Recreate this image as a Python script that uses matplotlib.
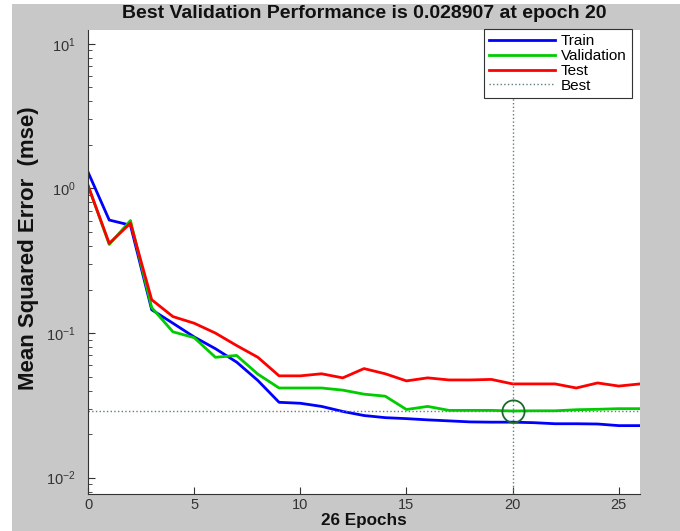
import matplotlib
matplotlib.use('Agg')
import matplotlib.pyplot as plt
from matplotlib.patches import Rectangle
from matplotlib.ticker import LogLocator, FixedLocator

epochs = list(range(27))
train = [1.30, 0.605, 0.557, 0.145, 0.117, 0.094, 0.078, 0.063, 0.047, 0.0332,
         0.0327, 0.0311, 0.0287, 0.0269, 0.0260, 0.0256, 0.0251, 0.0247, 0.0243,
         0.0242, 0.0242, 0.0240, 0.0236, 0.0236, 0.0235, 0.0229, 0.0229]
validation = [1.05, 0.41, 0.60, 0.15, 0.102, 0.093, 0.068, 0.070, 0.052, 0.0417,
              0.0417, 0.0417, 0.0403, 0.0378, 0.0366, 0.0296, 0.0311, 0.0292,
              0.0292, 0.0292, 0.028907, 0.0290, 0.0290, 0.0295, 0.0297, 0.0300, 0.0300]
test = [1.05, 0.417, 0.575, 0.17, 0.13, 0.117, 0.100, 0.082, 0.068, 0.0506,
        0.0506, 0.0523, 0.049, 0.0568, 0.0523, 0.0467, 0.049, 0.0474, 0.0474,
        0.0478, 0.0445, 0.0445, 0.0445, 0.0417, 0.0452, 0.0430, 0.0445]
best_epoch = 20
best_value = 0.028907
xticks = [0, 5, 10, 15, 20, 25]
yticks = [1e-2, 1e-1, 1e0, 1e1]
ytick_labels = [r'$10^{-2}$', r'$10^{-1}$', r'$10^{0}$', r'$10^{1}$']

plt.rcParams['font.family'] = ['Liberation Sans', 'DejaVu Sans']
plt.rcParams['mathtext.fontset'] = 'custom'
plt.rcParams['mathtext.rm'] = 'Liberation Sans'
plt.rcParams['mathtext.it'] = 'Liberation Sans'

W, H = 680, 531
fig = plt.figure(figsize=(W / 100, H / 100), dpi=100)
fig.patch.set_facecolor('white')
fig.patches.append(Rectangle((12 / W, 0), 1 - 12 / W, 1 - 4 / H, transform=fig.transFigure,
                             facecolor='#c8c8c8', edgecolor='none', zorder=-10))

left, right, top, bottom = 88, 640, 30, 494
ax = fig.add_axes([left / W, 1 - bottom / H, (right - left) / W, (bottom - top) / H])
ax.set_facecolor('white')

ax.plot(epochs, train, color=(0, 0, 1), lw=2.0, label='Train')
ax.plot(epochs, validation, color=(0, 0.8, 0), lw=2.0, label='Validation')
ax.plot(epochs, test, color=(1, 0, 0), lw=2.0, label='Test')
ax.axhline(best_value, color='#5f7f7f', ls=':', lw=1.0, label='Best')
ax.axvline(best_epoch, color='#5f7f7f', ls=':', lw=1.0)
ax.plot([best_epoch], [best_value], 'o', mfc='none', mec='#1a6a2a', ms=16, mew=1.3)

ax.set_yscale('log')
ax.set_xlim(0, 26)
ax.set_ylim(10 ** -2.113, 10 ** 1.096)
ax.xaxis.set_major_locator(FixedLocator(xticks))
ax.yaxis.set_major_locator(FixedLocator(yticks))
ax.yaxis.set_minor_locator(LogLocator(base=10, subs=range(2, 10)))
ax.set_yticklabels(ytick_labels)
ax.tick_params(axis='both', which='both', direction='in', colors='#333333',
               labelsize=10.5, labelcolor='#333333')
ax.tick_params(axis='both', which='major', length=5)
ax.tick_params(axis='y', which='major', pad=9)
ax.tick_params(axis='x', which='major', pad=3)
ax.tick_params(axis='y', which='minor', length=3)
for s in ['top', 'right']:
    ax.spines[s].set_visible(False)
for s in ['left', 'bottom']:
    ax.spines[s].set_color('#333333')

fig.text((left + right) / 2 / W, 1 - 13 / H,
         'Best Validation Performance is 0.028907 at epoch 20',
         fontsize=14, fontweight='bold', color='#111111', ha='center', va='center')
ax.set_xlabel('26 Epochs', fontsize=12.3, fontweight='bold', color='#111111', va='center')
ax.xaxis.set_label_coords(0.5, -(521 - bottom) / (bottom - top))
ax.set_ylabel('Mean Squared Error  (mse)', fontsize=16, fontweight='bold',
              color='#111111', va='center')
ax.yaxis.set_label_coords(-(left - 28) / (right - left), (bottom - 248) / (bottom - top))

leg = ax.legend(loc='upper right', bbox_to_anchor=(632 / W, 1 - 29 / H),
                bbox_transform=fig.transFigure,
                fontsize=11, handlelength=4.3, handletextpad=0.4,
                fancybox=False, framealpha=1, edgecolor='#333333',
                borderaxespad=0, borderpad=0.35, labelspacing=0.05)
leg.get_frame().set_linewidth(0.8)

fig.savefig('out.png', dpi=100)
